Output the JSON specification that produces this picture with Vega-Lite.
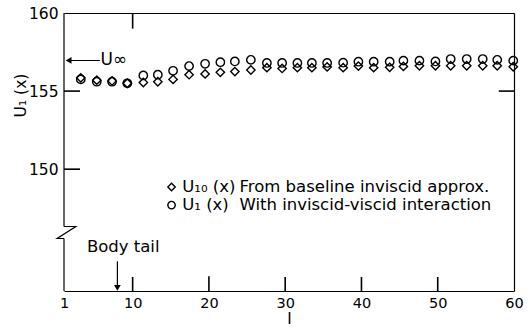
{
  "$schema": "https://vega.github.io/schema/vega-lite/v6.json",
  "width": 450,
  "height": 278,
  "autosize": {"type": "none"},
  "padding": {"left": 64, "top": 13, "right": 15, "bottom": 38},
  "background": "white",
  "config": {
    "view": {"stroke": null},
    "font": "DejaVu Sans",
    "axis": {"domainColor": "black", "tickColor": "black", "labelColor": "black", "titleColor": "black", "grid": false, "labelFont": "DejaVu Sans", "titleFont": "DejaVu Sans", "titleFontWeight": "normal", "domainWidth": 1.2, "tickWidth": 1.2}
  },
  "datasets": {
    "pts": [
      {"I": 3.2, "U": 155.75, "series": "U1"}, {"I": 3.2, "U": 155.85, "series": "U10"},
      {"I": 5.3, "U": 155.6, "series": "U1"}, {"I": 5.3, "U": 155.7, "series": "U10"},
      {"I": 7.3, "U": 155.6, "series": "U1"}, {"I": 7.3, "U": 155.65, "series": "U10"},
      {"I": 9.3, "U": 155.5, "series": "U1"}, {"I": 9.3, "U": 155.5, "series": "U10"},
      {"I": 11.4, "U": 156.0, "series": "U1"}, {"I": 11.4, "U": 155.55, "series": "U10"},
      {"I": 13.3, "U": 156.05, "series": "U1"}, {"I": 13.3, "U": 155.6, "series": "U10"},
      {"I": 15.3, "U": 156.3, "series": "U1"}, {"I": 15.3, "U": 155.75, "series": "U10"},
      {"I": 17.4, "U": 156.6, "series": "U1"}, {"I": 17.4, "U": 156.05, "series": "U10"},
      {"I": 19.5, "U": 156.75, "series": "U1"}, {"I": 19.5, "U": 156.1, "series": "U10"},
      {"I": 21.5, "U": 156.85, "series": "U1"}, {"I": 21.5, "U": 156.2, "series": "U10"},
      {"I": 23.4, "U": 156.9, "series": "U1"}, {"I": 23.4, "U": 156.25, "series": "U10"},
      {"I": 25.5, "U": 157.0, "series": "U1"}, {"I": 25.5, "U": 156.35, "series": "U10"},
      {"I": 27.6, "U": 156.8, "series": "U1"}, {"I": 27.6, "U": 156.5, "series": "U10"},
      {"I": 29.6, "U": 156.8, "series": "U1"}, {"I": 29.6, "U": 156.45, "series": "U10"},
      {"I": 31.6, "U": 156.8, "series": "U1"}, {"I": 31.6, "U": 156.5, "series": "U10"},
      {"I": 33.5, "U": 156.8, "series": "U1"}, {"I": 33.5, "U": 156.5, "series": "U10"},
      {"I": 35.5, "U": 156.8, "series": "U1"}, {"I": 35.5, "U": 156.55, "series": "U10"},
      {"I": 37.6, "U": 156.82, "series": "U1"}, {"I": 37.6, "U": 156.5, "series": "U10"},
      {"I": 39.6, "U": 156.88, "series": "U1"}, {"I": 39.6, "U": 156.6, "series": "U10"},
      {"I": 41.6, "U": 156.88, "series": "U1"}, {"I": 41.6, "U": 156.5, "series": "U10"},
      {"I": 43.7, "U": 156.88, "series": "U1"}, {"I": 43.7, "U": 156.52, "series": "U10"},
      {"I": 45.5, "U": 156.95, "series": "U1"}, {"I": 45.5, "U": 156.58, "series": "U10"},
      {"I": 47.6, "U": 156.95, "series": "U1"}, {"I": 47.6, "U": 156.62, "series": "U10"},
      {"I": 49.7, "U": 156.9, "series": "U1"}, {"I": 49.7, "U": 156.62, "series": "U10"},
      {"I": 51.7, "U": 157.05, "series": "U1"}, {"I": 51.7, "U": 156.62, "series": "U10"},
      {"I": 53.8, "U": 157.05, "series": "U1"}, {"I": 53.8, "U": 156.62, "series": "U10"},
      {"I": 55.9, "U": 157.05, "series": "U1"}, {"I": 55.9, "U": 156.62, "series": "U10"},
      {"I": 57.8, "U": 157.0, "series": "U1"}, {"I": 57.8, "U": 156.62, "series": "U10"},
      {"I": 59.9, "U": 156.95, "series": "U1"}, {"I": 59.9, "U": 156.56, "series": "U10"}
    ],
    "legendpts": [
      {"I": 15.1, "U": 148.86, "series": "U10"},
      {"I": 15.1, "U": 147.7, "series": "U1"}
    ],
    "frame": [
      {"x": 1, "y": 142.2, "y2": 145.56},
      {"x": 1, "y": 146.33, "y2": 160}
    ],
    "zigzag": [
      {"x": 1, "y": 146.33, "o": 1},
      {"x": 2.55, "y": 146.33, "o": 2},
      {"x": 0.1, "y": 145.56, "o": 3},
      {"x": 1, "y": 145.56, "o": 4}
    ],
    "arrows": [
      {"x": 1.5, "x2": 5.7, "y": 156.96, "y2": 156.96},
      {"x": 8, "x2": 8, "y": 144.1, "y2": 142.5}
    ],
    "vticks": [
      {"x": 10, "y": 142.2, "y2": 143.1},
      {"x": 20, "y": 142.2, "y2": 143.15},
      {"x": 30, "y": 142.2, "y2": 143.1},
      {"x": 40, "y": 142.2, "y2": 143.1},
      {"x": 50, "y": 142.2, "y2": 143.1},
      {"x": 10, "y": 159.0, "y2": 160}
    ],
    "hticks": [
      {"x": 1, "x2": 3.1, "y": 150},
      {"x": 1, "x2": 3.1, "y": 155},
      {"x": 58.0, "x2": 60, "y": 155}
    ],
    "heads": [
      {"x": 1.6, "y": 156.96, "shape": "triangle-left"},
      {"x": 8, "y": 142.4, "shape": "triangle-down"}
    ],
    "labels": [
      {"t": "Body tail", "x": 4.0, "y": 145.0},
      {"t": "U₁₀ (x)", "x": 16.5, "y": 148.86},
      {"t": "From baseline inviscid approx.", "x": 24.0, "y": 148.86},
      {"t": "U₁ (x)", "x": 16.5, "y": 147.7},
      {"t": "With inviscid-viscid interaction", "x": 24.0, "y": 147.7}
    ],
    "uinf": [
      {"t": "U∞", "x": 5.8, "y": 156.96}
    ]
  },
  "resolve": {"axis": {"x": "independent", "y": "independent"}},
  "layer": [
    {
      "data": {"name": "pts"},
      "mark": {"type": "point", "filled": false, "strokeWidth": 1.4, "size": 70, "color": "black", "opacity": 1},
      "encoding": {
        "x": {"field": "I", "type": "quantitative", "scale": {"domain": [1, 60], "nice": false, "zero": false},
          "axis": {"orient": "bottom", "values": [1, 10, 20, 30, 40, 50, 60], "ticks": false, "tickSize": 0, "labelFontSize": 14.5, "labelPadding": 5, "labelFlush": false, "title": "I", "titleFontSize": 15, "titlePadding": 2}},
        "y": {"field": "U", "type": "quantitative", "scale": {"domain": [142.2, 160], "nice": false, "zero": false},
          "axis": {"orient": "left", "values": [150, 155, 160], "ticks": false, "tickSize": 0, "domain": false, "labelFontSize": 15.5, "labelPadding": 6, "title": "U₁ (x)", "titleFontSize": 15.5, "titleX": -36, "titleY": 82}},
        "shape": {"field": "series", "type": "nominal", "scale": {"domain": ["U10", "U1"], "range": ["diamond", "circle"]}, "legend": null}
      }
    },
    {
      "data": {"name": "legendpts"},
      "mark": {"type": "point", "filled": false, "strokeWidth": 1.4, "size": 55, "color": "black", "opacity": 1},
      "encoding": {
        "x": {"field": "I", "type": "quantitative", "axis": null},
        "y": {"field": "U", "type": "quantitative", "axis": null},
        "shape": {"field": "series", "type": "nominal", "legend": null}
      }
    },
    {
      "data": {"name": "frame"},
      "mark": {"type": "rule", "color": "black", "strokeWidth": 1.2},
      "encoding": {
        "x": {"field": "x", "type": "quantitative", "axis": {"orient": "top", "values": [], "labels": false, "ticks": false, "title": null, "domain": true}},
        "y": {"field": "y", "type": "quantitative", "axis": {"orient": "right", "values": [], "labels": false, "ticks": false, "title": null, "domain": true}},
        "y2": {"field": "y2"}
      }
    },
    {
      "data": {"name": "vticks"},
      "mark": {"type": "rule", "color": "black", "strokeWidth": 1.6},
      "encoding": {
        "x": {"field": "x", "type": "quantitative", "axis": null},
        "y": {"field": "y", "type": "quantitative", "axis": null},
        "y2": {"field": "y2"}
      }
    },
    {
      "data": {"name": "hticks"},
      "mark": {"type": "rule", "color": "black", "strokeWidth": 1.6},
      "encoding": {
        "x": {"field": "x", "type": "quantitative", "axis": null},
        "x2": {"field": "x2"},
        "y": {"field": "y", "type": "quantitative", "axis": null}
      }
    },
    {
      "data": {"name": "zigzag"},
      "mark": {"type": "line", "color": "black", "strokeWidth": 1.2, "clip": false},
      "encoding": {
        "x": {"field": "x", "type": "quantitative", "axis": null},
        "y": {"field": "y", "type": "quantitative", "axis": null},
        "order": {"field": "o", "type": "quantitative"}
      }
    },
    {
      "data": {"name": "arrows"},
      "mark": {"type": "rule", "color": "black", "strokeWidth": 1.2},
      "encoding": {
        "x": {"field": "x", "type": "quantitative", "axis": null},
        "x2": {"field": "x2"},
        "y": {"field": "y", "type": "quantitative", "axis": null},
        "y2": {"field": "y2"}
      }
    },
    {
      "data": {"name": "heads"},
      "mark": {"type": "point", "filled": true, "color": "black", "size": 45, "opacity": 1},
      "encoding": {
        "x": {"field": "x", "type": "quantitative", "axis": null},
        "y": {"field": "y", "type": "quantitative", "axis": null},
        "shape": {"field": "shape", "type": "nominal", "scale": null, "legend": null}
      }
    },
    {
      "data": {"name": "labels"},
      "mark": {"type": "text", "align": "left", "baseline": "middle", "fontSize": 16.5, "color": "black", "font": "DejaVu Sans"},
      "encoding": {
        "x": {"field": "x", "type": "quantitative", "axis": null},
        "y": {"field": "y", "type": "quantitative", "axis": null},
        "text": {"field": "t"}
      }
    },
    {
      "data": {"name": "uinf"},
      "mark": {"type": "text", "align": "left", "baseline": "middle", "fontSize": 17, "color": "black", "font": "DejaVu Sans"},
      "encoding": {
        "x": {"field": "x", "type": "quantitative", "axis": null},
        "y": {"field": "y", "type": "quantitative", "axis": null},
        "text": {"field": "t"}
      }
    }
  ]
}
